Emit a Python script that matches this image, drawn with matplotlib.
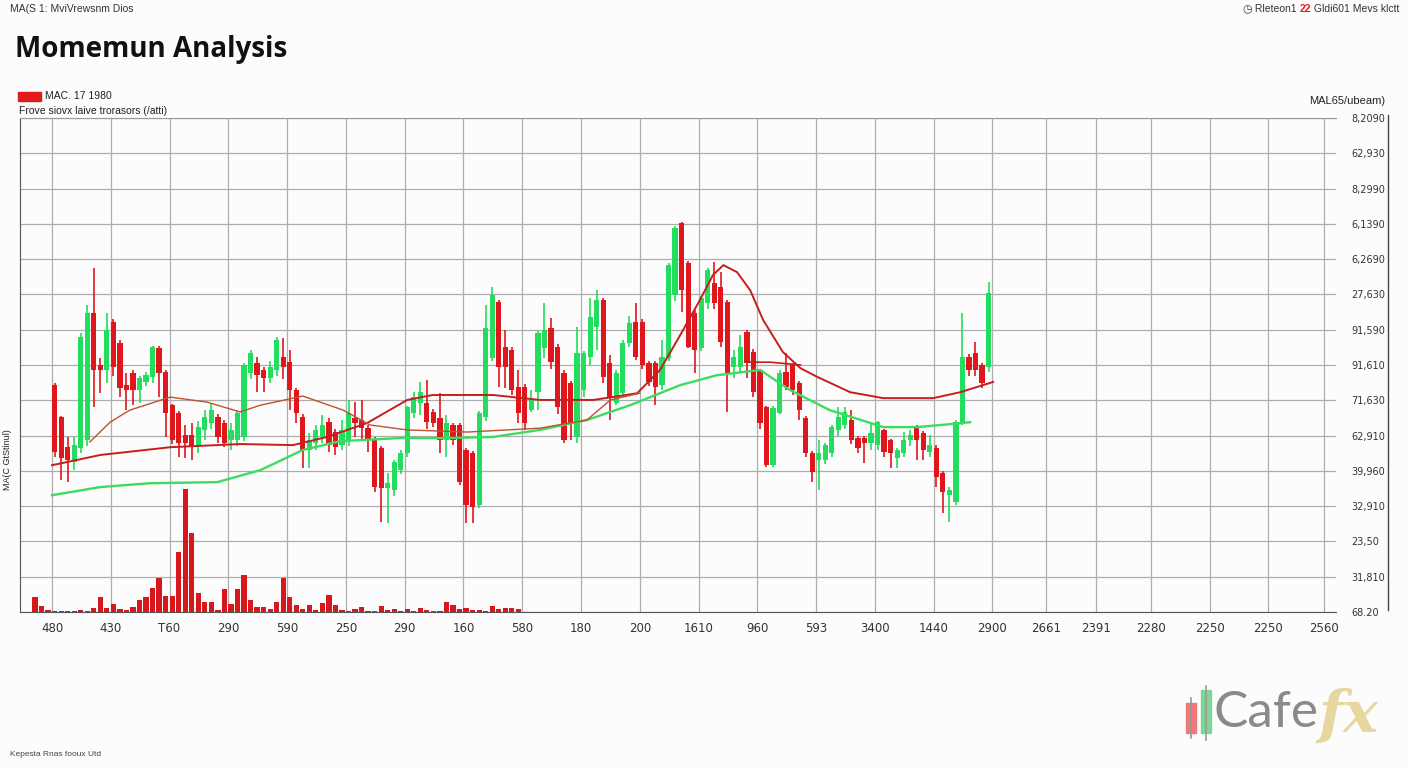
import numpy as np
import matplotlib
matplotlib.use("Agg")
import matplotlib.pyplot as plt
from matplotlib.patches import Rectangle
from matplotlib.lines import Line2D

# candlestick data (price units, one grid row = 10)
opens = [64.3, 55.2, 46.7, 42.5, 46.5, 48.7, 84.7, 70, 68.6, 82.2, 76.2, 64.3, 67.7, 62.9, 65.2, 66.6,
         74.8, 68, 58.6, 56.4, 50.1, 50.1, 47.3, 51.6, 53.5, 55.2, 53.5, 48.7, 48.7, 49.6, 67.7, 70.5,
         68.6, 66.3, 68.6, 72.2, 70.8, 62.9, 55.2, 45.9, 47.9, 49.6, 53.8, 51, 47.3, 48.7, 55, 54.4,
         52.1, 48.7, 46.5, 35.1, 34.6, 40.2, 45, 56.4, 59.2, 59.2, 56.7, 55, 48.7, 53, 53, 45.9,
         45, 30.3, 55.2, 72, 87.8, 75.1, 74.2, 63.7, 63.7, 57.2, 62.3, 74.8, 80.5, 75.1, 67.7, 64.9,
         49.6, 62.9, 72.2, 80.7, 88.4, 70.5, 59.2, 62, 76.2, 82.2, 82.2, 70.5, 70.5, 64.3, 72, 89.8,
         110.2, 98.9, 84.7, 74.8, 87.5, 93.2, 92.1, 87.8, 69.4, 69.4, 79.3, 73.7, 68.6, 58.1, 41.6, 56.4,
         68, 70, 64.9, 55, 45, 43.1, 43.1, 45, 51.6, 53, 54.4, 49.3, 49.3, 47.9, 47.3, 51.6,
         48.7, 43.6, 45, 48.7, 52.4, 50.7, 45.3, 46.5, 39.4, 33.1, 31.2, 53.5, 72.2, 73.4, 70, 69.4]
highs = [65, 55.5, 49.6, 49.6, 79, 87, 97.5, 72, 84.7, 83, 77, 67.7, 68.5, 67, 68, 75.5,
         75.5, 68.5, 59, 57, 53, 53.5, 54, 57.2, 59, 56, 54.4, 53.5, 57, 70.5, 74.2, 72.2,
         69.4, 71, 77.9, 77.6, 74.2, 63.5, 56, 50.7, 53, 55.8, 55, 52, 54.4, 60.1, 59.5, 60.1,
         53, 49.5, 47, 39.4, 43, 45.9, 58.5, 62.3, 65.2, 65.7, 57.5, 62, 55.8, 53.5, 53.5, 46.5,
         45.5, 57, 87, 92.1, 88.5, 79.9, 75, 68.6, 64.5, 62.9, 79.9, 87.5, 83.3, 76, 68.5, 65.5,
         80.7, 74, 89, 91.2, 89, 72.8, 68.5, 77, 83.9, 87.5, 83, 71, 71, 77.1, 99, 109.5,
         110.5, 99.5, 85.5, 89.5, 97.5, 99.2, 96.3, 88.5, 74.2, 78.5, 79.9, 74.5, 69, 58.5, 58.5, 68.5,
         73.4, 70.5, 65.5, 55.5, 45.5, 48.7, 48, 53, 58.1, 58.1, 57.2, 50, 50, 53.3, 54.1, 52,
         49, 46.5, 51, 51.6, 53, 51.2, 50.1, 47.3, 40, 35.5, 54.5, 84.7, 73, 76.5, 70.5, 93.5]
lows = [43.9, 37.4, 36.8, 40.2, 45, 47, 58, 62, 65, 67, 60.9, 57.2, 58.6, 59.2, 64, 65,
        60.9, 49.6, 47.5, 43.9, 43.6, 43.1, 45, 48.7, 52, 48, 46.7, 45.9, 47, 48.5, 66, 62.3,
        62.3, 65, 67, 66, 57.2, 53.5, 40.8, 40.8, 46, 48, 45.3, 44.5, 45.9, 47, 49.6, 48.7,
        45.3, 34, 25.5, 25.2, 33, 39, 44, 55, 55.8, 52, 52.5, 45, 43.9, 47.3, 36, 25.2,
        25.2, 29.5, 54, 71, 63.7, 63.5, 61.5, 53.5, 51.6, 56.7, 57.2, 72, 69, 56, 47.9, 48.7,
        48, 61, 70, 74.2, 65, 54.4, 58.6, 61, 75, 71.4, 69, 64, 58.6, 62.9, 71, 88,
        85, 74.8, 67.7, 74, 86, 86, 75, 56.7, 66.3, 68, 66.3, 61, 52, 41, 41, 56,
        63, 61.5, 54.4, 44, 36.8, 34.6, 42, 44, 50, 52, 47.5, 45, 42.2, 45.9, 46, 44,
        40.8, 40.8, 44, 47, 43.1, 43.1, 44, 35.4, 28, 25.5, 30.3, 53, 67, 67, 63.5, 68]
closes = [45.3, 43.6, 43.1, 47.3, 77.9, 84.7, 68.6, 68.6, 79.9, 69.4, 63.5, 62.9, 62.9, 66.3, 67.1, 75.1,
          67.7, 56.4, 48.7, 47.9, 47.9, 46.7, 52.4, 55.2, 57.2, 49.6, 47.9, 51.6, 56.4, 70, 73.4, 67.1,
          66.3, 69.4, 77.1, 69.4, 62.9, 56.4, 45.9, 48.7, 51.6, 53, 47.3, 46.7, 51.6, 56.4, 53.5, 52.1,
          48.7, 35.4, 35.1, 36.5, 42.5, 45, 58.1, 60.9, 62.3, 53.8, 53.5, 48.7, 53.5, 48.7, 36.8, 30.3,
          29.7, 56.4, 80.5, 89.8, 69.4, 69.4, 62.9, 56.4, 53.5, 60.1, 79, 79.9, 70.8, 58.1, 48.7, 53.5,
          73.4, 73.4, 83.6, 88.4, 66.6, 60.9, 67.7, 76.2, 81.9, 72.2, 70, 65.2, 63.7, 72.2, 98.3, 108.8,
          91.2, 75.1, 74.2, 89, 96.9, 87.5, 76.5, 67.7, 72.2, 75.1, 70.5, 62.3, 53.5, 41.6, 57.8, 67.7,
          63.7, 62.9, 57.2, 45, 39.7, 45, 47.3, 52.4, 55.2, 56.7, 48.7, 46.5, 47.9, 50.7, 53.8, 45.3,
          45, 45.9, 48.7, 50.1, 48.7, 45.9, 47.3, 38.2, 34, 34.6, 53.8, 72.2, 68.6, 68.6, 64.9, 90.4]

volume = [15, 6, 2, 1, 1, 1, 1, 2, 1, 4, 15, 4, 8, 3, 2, 5, 12, 15, 24, 34,
          16, 16, 60, 123, 79, 19, 10, 10, 2, 23, 8, 23, 37, 12, 5, 5, 3, 10, 34, 15,
          7, 3, 7, 2, 9, 17, 7, 2, 1, 3, 5, 1, 1, 6, 2, 3, 1, 3, 1, 4,
          2, 1, 1, 10, 7, 3, 4, 2, 2, 1, 6, 3, 4, 4, 3]

# moving averages (slot, value)
ma_green_x = [2.6, 10.0, 17.6, 27.9, 34.5, 41.0, 46.7, 55.9, 63.1, 70.1, 77.3, 84.5, 91.1, 98.8,
              104.4, 111.0, 115.6, 121.7, 129.9, 135.1, 141.7, 143.2]
ma_green = [33.1, 35.4, 36.5, 36.8, 40.2, 45.9, 48.4, 49.3, 49.3, 49.6, 51.6, 54.4, 58.6, 64.3,
            67.1, 68.6, 62.9, 57.2, 52.4, 52.4, 53.5, 53.8]
ma_red_x = [2.6, 10.0, 20.7, 31.4, 39.5, 44.7, 50.8, 57.0, 60.9, 70.1, 77.3, 85.5, 92.2, 95.7,
            98.8, 101.8, 103.8, 105.4, 107.5, 109.5, 111.5, 114.5, 117.2, 119.8, 124.8, 129.9,
            137.5, 141.7, 146.7]
ma_red = [41.6, 44.5, 46.7, 47.6, 47.3, 49.6, 53.5, 60.1, 61.5, 61.5, 60.1, 60.1, 62.0, 68.6,
          78.5, 88.4, 95.5, 98.3, 96.3, 91.2, 82.7, 73.7, 69.1, 66.6, 62.3, 60.6, 60.6, 62.3, 65.2]
ma_thin_x = [8.4, 11.5, 14.5, 20.7, 26.3, 31.4, 34.5, 41.0, 47.2, 51.3, 57.0, 66.2, 77.3, 84.5,
             88.1, 92.6]
ma_thin = [48.2, 53.8, 57.2, 60.9, 59.5, 56.7, 58.6, 61.2, 57.2, 53.0, 51.6, 51.0, 52.1, 54.4,
           60.1, 62.0]
ma_flat_x = [108.7, 112.6, 117.2]
ma_flat = [70.8, 70.8, 70.0]

x_labels = ["480", "430", "T60", "290", "590", "250", "290", "160", "580", "180", "200", "1610",
            "960", "593", "3400", "1440", "2900", "2661", "2391", "2280", "2250", "2250", "2560"]
y_labels = ["68.20", "31,810", "23,50", "32,910", "39,960", "62,910", "71,630", "91,610",
            "91,590", "27,630", "6,2690", "6,1390", "8,2990", "62,930", "8,2090"]

RED = "#e0161d"
GREEN = "#22dd5e"

W, H = 1408, 768
fig = plt.figure(figsize=(W / 100, H / 100), dpi=100)
fig.patch.set_facecolor("#fcfcfc")

ax = fig.add_axes([20 / W, 1 - 612 / H, (1336 - 20) / W, (612 - 118) / H])
ax.set_facecolor("none")

# candles
o = np.array(opens); h = np.array(highs); l = np.array(lows); c = np.array(closes)
cx = np.arange(len(o)) + 3
up = c >= o
colors = np.where(up, GREEN, RED)
ax.vlines(cx, l, h, colors=colors, lw=1.2, zorder=3)
body_low = np.minimum(o, c)
body_h = np.maximum(np.abs(c - o), 0.6)
ax.bar(cx, body_h, bottom=body_low, width=0.8, color=colors, zorder=4)

# moving averages
ax.plot(ma_green_x, ma_green, color="#3ddc60", lw=1.7, zorder=5)
ax.plot(ma_red_x, ma_red, color="#c41e1e", lw=1.4, zorder=5)
ax.plot(ma_thin_x, ma_thin, color="#c0502e", lw=1.0, zorder=5)
ax.plot(ma_flat_x, ma_flat, color="#c41e1e", lw=1.2, zorder=5)

# volume on its own hidden scale
ax2 = ax.twinx()
ax2.bar(np.arange(len(volume)), volume, width=0.8, color="#d8171d", zorder=2)
ax2.set_ylim(0, 494)
ax2.set_axis_off()

xt = [2.6 + 9 * j for j in range(17)] + [154.8, 162.5, 170.9, 179.9, 188.8, 197.4]
ax.set_xlim(-2.3, 199.2)
ax2.set_xlim(-2.3, 199.2)
ax.set_xticks(xt)
ax.set_xticklabels(x_labels)
ax.set_ylim(0, 140)
ax.set_yticks(np.arange(0, 141, 10))
ax.set_yticklabels(y_labels)
ax.yaxis.tick_right()
ax.grid(True, color="#adadad", lw=0.9)
ax.set_axisbelow(True)
ax.tick_params(axis="x", length=0, pad=7, labelsize=8.5, labelcolor="#333333")
ax.tick_params(axis="y", length=0, pad=11, labelsize=7, labelcolor="#333333")
for s in ["left", "bottom"]:
    ax.spines[s].set_color("#555555")
ax.spines["top"].set_color("#999999")
ax.spines["right"].set_visible(False)

fig.add_artist(Line2D([1388 / W] * 2, [1 - 115 / H, 1 - 610 / H], color="#444444", lw=1))

# texts
fig.text(10 / W, 1 - 9 / H, "MA(S 1: MviVrewsnm Dios", fontsize=7.5, va="center",
         family="Liberation Sans", color="#333333")
fig.text(15 / W, 1 - 50 / H, "Momemun Analysis", fontsize=20, fontweight="bold",
         family="Open Sans", va="center", color="#111111")
fig.add_artist(Rectangle((18 / W, 1 - 101 / H), 23 / W, 9 / H, color="#e01b1b",
                         transform=fig.transFigure))
fig.text(45 / W, 1 - 96 / H, "MAC. 17 1980", fontsize=7.5, va="center",
         family="Liberation Sans", color="#222222")
fig.text(19 / W, 1 - 111 / H, "Frove siovx laive trorasors (/atti)", fontsize=7.5,
         va="center", family="Liberation Sans", color="#222222")
fig.text(1385 / W, 1 - 101 / H, "MAL65/ubeam)", fontsize=8, va="center", ha="right",
         family="Liberation Sans", color="#222222")
fig.text(8 / W, 1 - 460 / H, "MA(C GtStinul)", fontsize=6.5, rotation=90, va="center",
         ha="center", family="Liberation Sans", color="#222222")
fig.text(10 / W, 1 - 755 / H, "Kepesta Rnas fooux Utd", fontsize=6, va="center",
         family="Liberation Sans", color="#444444")

t1 = fig.text(1242 / W, 1 - 9 / H, "\u25f7", fontsize=8, va="center", family="DejaVu Sans",
              color="#333333")
t2 = ax.annotate(" Rleteon1 ", xy=(1, 0), xycoords=t1, va="bottom", fontsize=7.5,
                 family="Liberation Sans", color="#333333", annotation_clip=False)
t3 = ax.annotate("22", xy=(1, 0), xycoords=t2, va="bottom", fontsize=7.5,
                 family="Liberation Sans", color="#e02020", fontweight="bold",
                 annotation_clip=False)
ax.annotate(" Gldi601 Mevs klctt", xy=(1, 0), xycoords=t3, va="bottom", fontsize=7.5,
            family="Liberation Sans", color="#333333", annotation_clip=False)

# logo
fig.add_artist(Line2D([1191 / W] * 2, [1 - 698 / H, 1 - 738 / H], color="#9a9a9a", lw=1.2))
fig.add_artist(Rectangle((1186 / W, 1 - 733 / H), 10 / W, 30 / H, color="#f07878",
                         transform=fig.transFigure))
fig.add_artist(Line2D([1206 / W] * 2, [1 - 686 / H, 1 - 740 / H], color="#9a9a9a", lw=1.2))
fig.add_artist(Rectangle((1201 / W, 1 - 733 / H), 10 / W, 43 / H, color="#80d498",
                         transform=fig.transFigure))
fig.text(1214 / W, 1 - 713 / H, "Cafe", fontsize=37, family="Lato",
         color="#8a8a8a", va="center")
fig.text(1318 / W, 1 - 716 / H, "fx", fontsize=42, family="DejaVu Serif", style="italic",
         fontweight="bold", color="#e6d6a0", va="center")

fig.savefig("out.png", dpi=100, facecolor=fig.get_facecolor())
